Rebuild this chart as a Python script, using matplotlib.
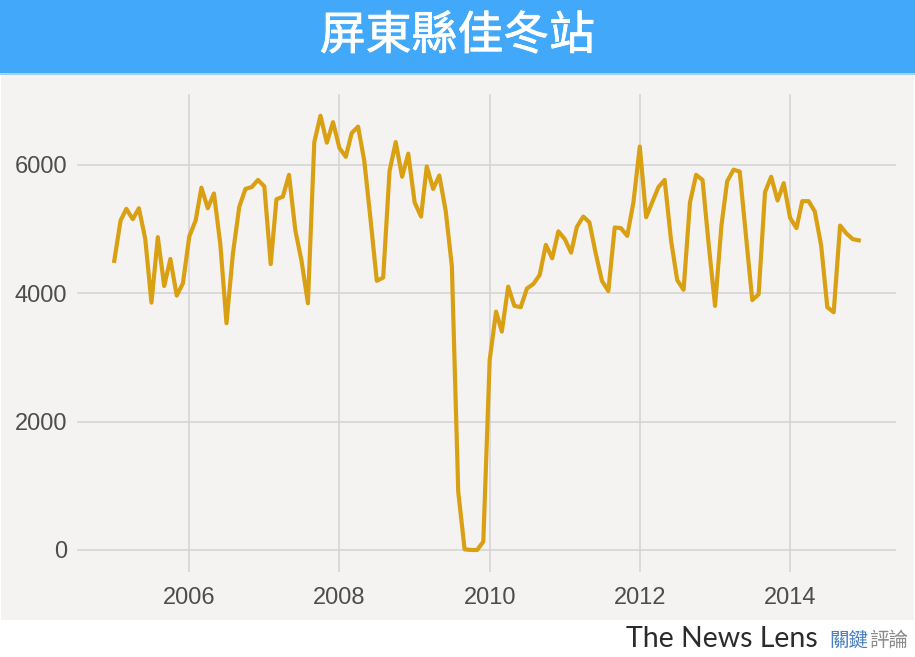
import matplotlib
matplotlib.use("Agg")
import matplotlib.pyplot as plt
import matplotlib.dates as mdates
import matplotlib.patheffects as pe
import pandas as pd
import numpy as np

title = "屏東縣佳冬站"
start_month = "2005-01"

values_2005 = [4500, 5130, 5310, 5150, 5320, 4840, 3850, 4870, 4110, 4530, 3960, 4150]
values_2006 = [4880, 5130, 5640, 5320, 5550, 4760, 3530, 4610, 5340, 5620, 5650, 5760]
values_2007 = [5660, 4450, 5460, 5500, 5840, 4970, 4500, 3840, 6350, 6760, 6340, 6660]
values_2008 = [6260, 6120, 6490, 6590, 6060, 5130, 4190, 4240, 5900, 6350, 5810, 6170]
values_2009 = [5410, 5190, 5970, 5620, 5830, 5280, 4420, 910, 10, 0, 0, 130]
values_2010 = [2960, 3710, 3400, 4100, 3800, 3780, 4070, 4140, 4280, 4750, 4540, 4960]
values_2011 = [4840, 4630, 5030, 5190, 5100, 4610, 4190, 4030, 5020, 5010, 4890, 5410]
values_2012 = [6280, 5180, 5410, 5650, 5760, 4820, 4200, 4050, 5410, 5840, 5760, 4760]
values_2013 = [3800, 5050, 5740, 5920, 5890, 4870, 3890, 3980, 5570, 5810, 5440, 5710]
values_2014 = [5170, 5010, 5430, 5430, 5270, 4740, 3780, 3700, 5050, 4930, 4840, 4820]

y_ticks = [0, 2000, 4000, 6000]
x_tick_years = [2006, 2008, 2010, 2012, 2014]

values = (values_2005 + values_2006 + values_2007 + values_2008 + values_2009 +
          values_2010 + values_2011 + values_2012 + values_2013 + values_2014)
dates = pd.date_range(start_month, periods=len(values), freq="MS")

W, H = 915, 657
fig = plt.figure(figsize=(W / 100, H / 100), dpi=100)
fig.patch.set_facecolor("white")

# panel background
fig.add_artist(plt.Rectangle((1 / W, 1 - 620 / H), 913 / W, (620 - 74) / H,
                             transform=fig.transFigure, facecolor="#F4F3F2",
                             edgecolor="none", zorder=-5))
# title bar
fig.add_artist(plt.Rectangle((0, 1 - 73 / H), 1, 73 / H, transform=fig.transFigure,
                             facecolor="#42A8FA", edgecolor="none", zorder=-4))
fig.add_artist(plt.Rectangle((0, 1 - 75 / H), 1, 2 / H, transform=fig.transFigure,
                             facecolor="#9FD0F8", edgecolor="none", zorder=-4))
fig.text(0.5, 1 - 36 / H, title, ha="center", va="center", color="white",
         fontsize=33, family=["Noto Sans CJK TC", "DejaVu Sans"], fontweight="normal",
         path_effects=[pe.Stroke(linewidth=0.6, foreground="white"), pe.Normal()])

ax = fig.add_axes([77 / W, 1 - 571.7 / H, (896 - 77) / W, (571.7 - 94) / H])
ax.set_zorder(2)
ax.set_facecolor("none")
ax.plot(dates, values, color="#DAA014", lw=3.0, solid_joinstyle="round", zorder=3)

d0 = mdates.date2num(dates[0])
d1 = mdates.date2num(dates[-1])
pad = 0.05 * (d1 - d0)
ax.set_xlim(d0 - pad, d1 + pad)
vmin, vmax = min(values), max(values)
ypad = 0.05 * (vmax - vmin)
ax.set_ylim(vmin - ypad, vmax + ypad)

ax.set_yticks(y_ticks)
ax.set_yticklabels([str(v) for v in y_ticks])
ax.set_xticks([mdates.date2num(pd.Timestamp(f"{y}-01-01")) for y in x_tick_years])
ax.set_xticklabels([str(y) for y in x_tick_years])

ax.grid(True, color="#D3D3D3", lw=1.1)
ax.set_axisbelow(True)
for s in ax.spines.values():
    s.set_visible(False)
ax.tick_params(length=0, labelsize=17, labelcolor="#4D4D4D")
ax.tick_params(axis="y", pad=7)
ax.tick_params(axis="x", pad=11)
for lab in ax.get_xticklabels() + ax.get_yticklabels():
    lab.set_family(["Liberation Sans", "DejaVu Sans"])

# logo
fig.text(626 / W, 1 - 639 / H, "The News Lens", ha="left", va="center", color="#2B2B2B",
         fontsize=20.5, family=["Lato", "DejaVu Sans"], fontweight="normal")
fig.text(829 / W, 1 - 640 / H, "關鍵", ha="left", va="center", color="#4A7FC0",
         fontsize=14, family=["Noto Sans CJK TC", "DejaVu Sans"])
fig.text(869 / W, 1 - 640 / H, "評論", ha="left", va="center", color="#8A8A8A",
         fontsize=14, family=["Noto Sans CJK TC", "DejaVu Sans"])

fig.savefig("out.png", dpi=100, facecolor="white")
